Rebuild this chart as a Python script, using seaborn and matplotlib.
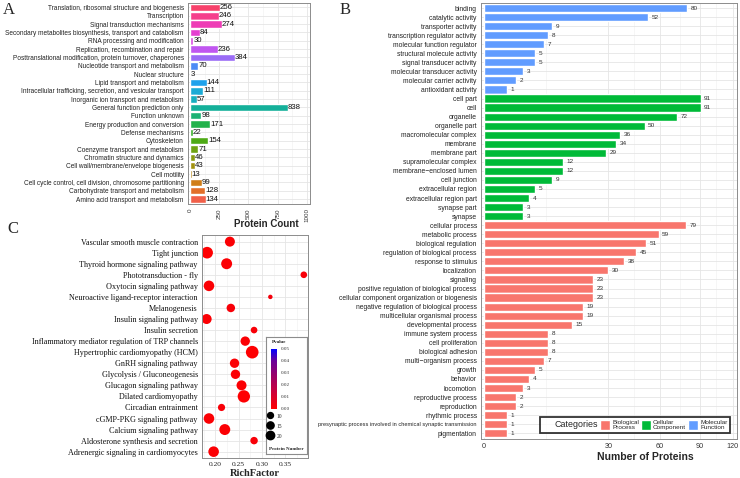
import numpy as np
import pandas as pd
import matplotlib
matplotlib.use("Agg")
import matplotlib.pyplot as plt
import seaborn as sns
from matplotlib.colors import LinearSegmentedColormap, Normalize
from matplotlib.cm import ScalarMappable
from matplotlib.lines import Line2D
from matplotlib.patches import Patch
from matplotlib.ticker import FixedLocator

# ---------------- Panel A: COG classification ----------------
cog_terms = [
    "Translation, ribosomal structure and biogenesis",
    "Transcription",
    "Signal transduction mechanisms",
    "Secondary metabolites biosynthesis, transport and catabolism",
    "RNA processing and modification",
    "Replication, recombination and repair",
    "Posttranslational modification, protein turnover, chaperones",
    "Nucleotide transport and metabolism",
    "Nuclear structure",
    "Lipid transport and metabolism",
    "Intracellular trafficking, secretion, and vesicular transport",
    "Inorganic ion transport and metabolism",
    "General function prediction only",
    "Function unknown",
    "Energy production and conversion",
    "Defense mechanisms",
    "Cytoskeleton",
    "Coenzyme transport and metabolism",
    "Chromatin structure and dynamics",
    "Cell wall/membrane/envelope biogenesis",
    "Cell motility",
    "Cell cycle control, cell division, chromosome partitioning",
    "Carbohydrate transport and metabolism",
    "Amino acid transport and metabolism",
]
cog_counts = [256, 246, 274, 84, 30, 236, 384, 70, 3, 144, 111, 57, 838, 98,
              171, 22, 154, 71, 46, 43, 13, 99, 128, 134]
cog_colors = ["#F7416B", "#F5408C", "#EE3DB5", "#E43FD0", "#D94AE3", "#C056F0",
              "#9B6CF6", "#4C8BF5", "#2D96F0", "#1EA2EC", "#1AABD6", "#17AFC0",
              "#14B09A", "#1BB173", "#22B24B", "#39B02A", "#4EAA15", "#6FA212",
              "#8A9A10", "#A2920F", "#BB8812", "#D07D18", "#E26F2A", "#F1604A"]
cog_ticks = [0, 250, 500, 750, 1000]

# ---------------- Panel B: GO classification ----------------
mf_terms = ["binding", "catalytic activity", "transporter activity",
            "transcription regulator activity", "molecular function regulator",
            "structural molecule activity", "signal transducer activity",
            "molecular transducer activity", "molecular carrier activity",
            "antioxidant activity"]
mf_counts = [80, 52, 9, 8, 7, 5, 5, 3, 2, 1]
cc_terms = ["cell part", "cell", "organelle", "organelle part",
            "macromolecular complex", "membrane", "membrane part",
            "supramolecular complex", "membrane\u2212enclosed lumen",
            "cell junction", "extracellular region", "extracellular region part",
            "synapse part", "synapse"]
cc_counts = [91, 91, 72, 50, 36, 34, 29, 12, 12, 9, 5, 4, 3, 3]
bp_terms = ["cellular process", "metabolic process", "biological regulation",
            "regulation of biological process", "response to stimulus",
            "localization", "signaling",
            "positive regulation of biological process",
            "cellular component organization or biogenesis",
            "negative regulation of biological process",
            "multicellular organismal process", "developmental process",
            "immune system process", "cell proliferation", "biological adhesion",
            "multi\u2212organism process", "growth", "behavior", "locomotion",
            "reproductive process", "reproduction", "rhythmic process",
            "presynaptic process involved in chemical synaptic transmission",
            "pigmentation"]
bp_counts = [79, 59, 51, 45, 38, 30, 23, 23, 23, 19, 19, 15, 8, 8, 8, 7, 5, 4,
             3, 2, 2, 1, 1, 1]
go_categories = ["Molecular Function", "Cellular Component", "Biological Process"]
go_legend_labels = ["Biological\nProcess", "Cellular\nComponent", "Molecular\nFunction"]
go_palette = {"Biological Process": "#F8766D", "Cellular Component": "#00BA38",
              "Molecular Function": "#619CFF"}
go_ticks = [0, 30, 60, 90, 120]

# ---------------- Panel C: KEGG enrichment ----------------
kegg_terms = ["Vascular smooth muscle contraction", "Tight junction",
              "Thyroid hormone signaling pathway", "Phototransduction - fly",
              "Oxytocin signaling pathway",
              "Neuroactive ligand-receptor interaction", "Melanogenesis",
              "Insulin signaling pathway", "Insulin secretion",
              "Inflammatory mediator regulation of TRP channels",
              "Hypertrophic cardiomyopathy (HCM)", "GnRH signaling pathway",
              "Glycolysis / Gluconeogenesis", "Glucagon signaling pathway",
              "Dilated cardiomyopathy", "Circadian entrainment",
              "cGMP-PKG signaling pathway", "Calcium signaling pathway",
              "Aldosterone synthesis and secretion",
              "Adrenergic signaling in cardiomyocytes"]
kegg_rich = [0.231, 0.182, 0.224, 0.390, 0.186, 0.318, 0.233, 0.181, 0.283,
             0.264, 0.279, 0.241, 0.243, 0.256, 0.261, 0.213, 0.186, 0.220,
             0.283, 0.196]
kegg_count = [25, 34, 30, 11, 28, 5, 18, 25, 11, 22, 40, 22, 22, 25, 38, 13,
              28, 30, 14, 28]
kegg_pvalue = [0.001, 0.0005, 0.001, 0.002, 0.001, 0.003, 0.002, 0.001, 0.002,
               0.001, 0.0005, 0.001, 0.001, 0.001, 0.0005, 0.002, 0.001, 0.001,
               0.002, 0.001]
kegg_ticks = [0.20, 0.25, 0.30, 0.35]
pvalue_ticks = [0.00, 0.01, 0.02, 0.03, 0.04, 0.05]
size_breaks = [10, 15, 20]

# ---------------- figure ----------------
sns.set_theme(style="white")
plt.rcParams["font.family"] = ["Liberation Sans", "DejaVu Sans"]
SERIF = ["Liberation Serif", "DejaVu Serif"]
W, H = 740, 478
fig = plt.figure(figsize=(W / 100, H / 100), dpi=100)


def px_axes(l, t, r, b):
    return fig.add_axes([l / W, 1 - b / H, (r - l) / W, (b - t) / H])


def gg_style(ax):
    ax.set_facecolor("white")
    for s in ax.spines.values():
        s.set_color("#8c8c8c")
        s.set_linewidth(0.7)
    ax.set_axisbelow(True)
    ax.grid(True, which="major", color="#e5e5e5", lw=0.6)
    ax.grid(True, which="minor", axis="x", color="#f0f0f0", lw=0.4)
    ax.tick_params(which="major", length=2, width=0.5, color="#333333", pad=1)
    ax.tick_params(which="minor", length=0)


# ---- Panel A ----
dfA = pd.DataFrame({"term": cog_terms, "count": cog_counts})
axA = px_axes(188, 2.5, 310, 204)
sns.barplot(data=dfA, y="term", x="count", hue="term", order=cog_terms,
            hue_order=cog_terms, palette=cog_colors, legend=False, width=0.9,
            saturation=1, ax=axA)
gg_style(axA)
axA.set_xlim(-17, 1026)
axA.set_ylim(len(cog_terms) - 0.4, -0.6)
axA.set_xticks(cog_ticks)
axA.xaxis.set_minor_locator(FixedLocator([125, 375, 625, 875]))
axA.set_xticklabels([str(t) for t in cog_ticks], rotation=90, fontsize=4.5,
                    color="#333333")
axA.tick_params(axis="y", labelsize=4.7, labelcolor="#222222")
axA.set_xlabel("")
axA.set_ylabel("")
for i, v in enumerate(cog_counts):
    axA.text(v, i, str(v), va="center", ha="left", fontsize=5.6, color="#111111")
fig.text(266 / W, 1 - 224 / H, "Protein Count", ha="center", va="center",
         fontsize=7, fontweight="bold")

# ---- Panel B ----
go_terms = mf_terms + cc_terms + bp_terms
go_counts = mf_counts + cc_counts + bp_counts
go_cat = ([go_categories[0]] * len(mf_terms) + [go_categories[1]] * len(cc_terms)
          + [go_categories[2]] * len(bp_terms))
dfB = pd.DataFrame({"term": go_terms, "count": go_counts, "category": go_cat})
axB = px_axes(481, 2.6, 737, 438.7)
sns.barplot(data=dfB, y="term", x="count", hue="category", order=go_terms,
            palette=go_palette, dodge=False, legend=False, width=0.9,
            saturation=1, ax=axB)
axB.set_xscale("function", functions=(lambda x: np.sign(x) * np.sqrt(np.abs(x)),
                                      lambda y: np.sign(y) * y ** 2))
gg_style(axB)
axB.set_xlim(-0.017, 124)
axB.set_ylim(len(go_terms) - 0.4, -0.6)
axB.set_xticks(go_ticks)
axB.xaxis.set_minor_locator(FixedLocator([7.5, 43.7, 74.2, 104.5]))
axB.set_xticklabels([str(t) for t in go_ticks], fontsize=5.2, color="#333333")
axB.tick_params(axis="y", labelsize=4.9, labelcolor="#222222")
for lab in axB.get_yticklabels():
    if lab.get_text().startswith("presynaptic"):
        lab.set_fontsize(4.05)
axB.set_xlabel("")
axB.set_ylabel("")
for i, v in enumerate(go_counts):
    axB.annotate(str(v), (v, i), xytext=(2.5, 0), textcoords="offset points",
                 va="center", ha="left", fontsize=4.6, color="#333333")
fig.text(645 / W, 1 - 457 / H, "Number of Proteins", ha="center", va="center",
         fontsize=7.5, fontweight="bold")
handles = [Patch(facecolor="none", edgecolor="none", label="Categories")]
for cat, lab in zip(["Biological Process", "Cellular Component",
                     "Molecular Function"], go_legend_labels):
    handles.append(Patch(facecolor=go_palette[cat], edgecolor="white", label=lab))
legB = axB.legend(handles=handles, ncol=4, loc="lower right",
                  bbox_to_anchor=(0.973, 0.013), fontsize=4.6, frameon=True,
                  fancybox=False, handlelength=1.6, handleheight=1.9,
                  handletextpad=0.3, columnspacing=0.3, borderpad=0.4,
                  borderaxespad=0)
legB.get_frame().set_edgecolor("black")
legB.get_frame().set_linewidth(1.3)
legB.get_texts()[0].set_fontsize(6.4)

# ---- Panel C ----
cmap = LinearSegmentedColormap.from_list(
    "pv", [(0, "#FF0000"), (0.3, "#C8003E"), (0.55, "#9A0066"),
           (0.8, "#6A0099"), (1, "#0000FF")])
dfC = pd.DataFrame({"term": kegg_terms, "rich": kegg_rich,
                    "count": kegg_count, "pvalue": kegg_pvalue})
axC = px_axes(202, 235, 308, 458.3)
cmin, cmax = min(kegg_count), max(kegg_count)
sns.scatterplot(data=dfC, x="rich", y="term", size="count",
                sizes=(2.07 * cmin, 2.07 * cmax), size_norm=(cmin, cmax),
                hue="pvalue", hue_norm=(0, 0.05), palette=cmap, legend=False,
                edgecolor="none", linewidth=0, ax=axC)
gg_style(axC)
axC.set_xlim(0.171, 0.399)
axC.set_ylim(len(kegg_terms) - 0.4, -0.6)
axC.set_xticks(kegg_ticks)
axC.xaxis.set_minor_locator(FixedLocator([0.175, 0.225, 0.275, 0.325, 0.375]))
axC.set_xticklabels([f"{t:.2f}" for t in kegg_ticks], fontsize=5.4,
                    family=SERIF, color="#222222")
axC.set_yticks(range(len(kegg_terms)))
axC.set_yticklabels(kegg_terms, fontsize=5.9, family=SERIF, color="#111111")
axC.set_xlabel("")
axC.set_ylabel("")
fig.text(255 / W, 1 - 473 / H, "RichFactor", ha="center", va="center",
         fontsize=7.5, fontweight="bold", family=SERIF)

# legend box for panel C
axL = px_axes(266, 337, 307, 454)
axL.set_zorder(5)
axL.set_facecolor("white")
axL.set_xticks([])
axL.set_yticks([])
for s in axL.spines.values():
    s.set_color("#8c8c8c")
    s.set_linewidth(0.8)
axL.text(0.32, 0.955, "Pvalue", transform=axL.transAxes, ha="center",
         va="center", fontsize=3.6, fontweight="bold", family=SERIF)
axL.text(0.5, 0.045, "Protein Number", transform=axL.transAxes, ha="center",
         va="center", fontsize=3.6, fontweight="bold", family=SERIF)
size_handles = [Line2D([], [], marker="o", ls="", color="black",
                       markersize=1.35 * np.sqrt(b)) for b in size_breaks]
axL.legend(handles=size_handles, labels=[str(b) for b in size_breaks],
           loc="upper left", bbox_to_anchor=(0.02, 0.36), frameon=False,
           handlelength=1.3, handleheight=1.9, handletextpad=0.4,
           labelspacing=0.3, borderaxespad=0, borderpad=0.0,
           prop={"family": SERIF, "size": 4.0})
cax = px_axes(271, 349, 277, 409)
cax.set_zorder(6)
cb = fig.colorbar(ScalarMappable(norm=Normalize(0, 0.05), cmap=cmap), cax=cax)
cb.outline.set_visible(False)
cb.set_ticks(pvalue_ticks)
cb.set_ticklabels([f"{t:.2f}" for t in pvalue_ticks])
cax.tick_params(length=1.5, width=0.4, color="white", pad=1, labelsize=3.6)
for lab in cax.get_yticklabels():
    lab.set_family(SERIF)

# panel letters
for txt, x, y in [("A", 9, 10), ("B", 345, 10), ("C", 13, 229)]:
    fig.text(x / W, 1 - y / H, txt, ha="center", va="center", fontsize=12,
             family=SERIF)

fig.savefig("out.png", dpi=100)
